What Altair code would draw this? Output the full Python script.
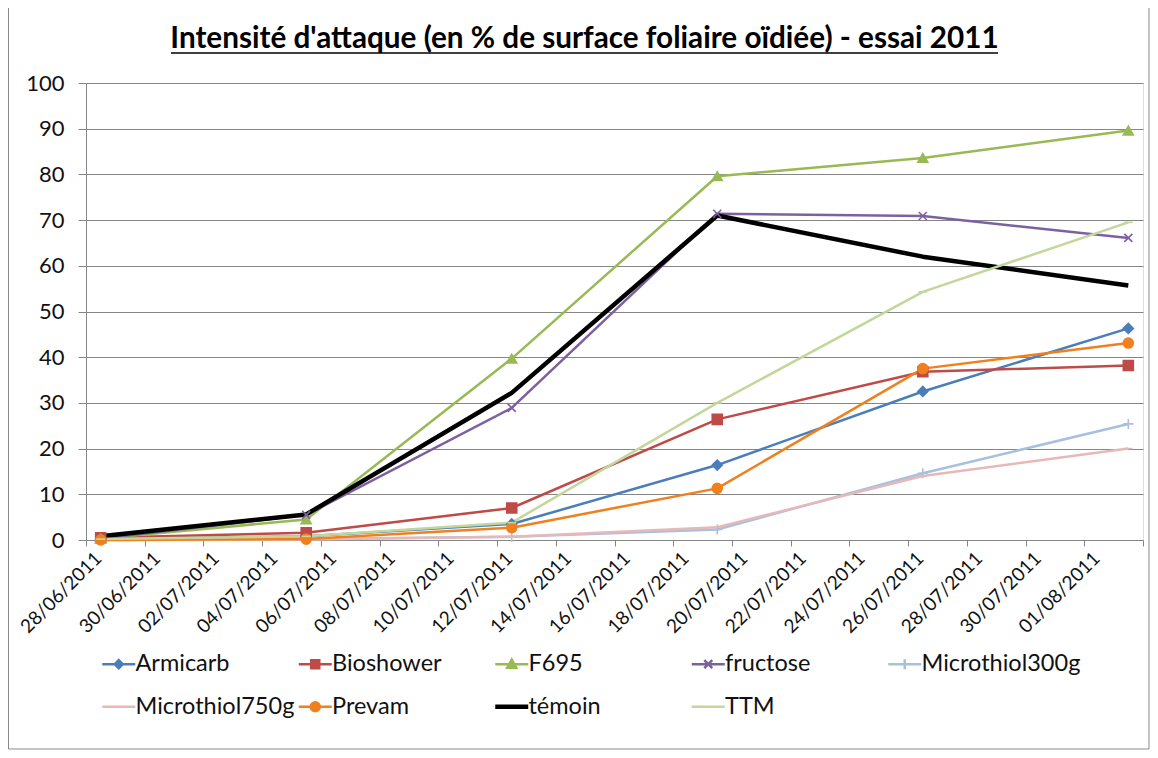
import altair as alt
import pandas as pd

dates = ["28/06/2011", "05/07/2011", "12/07/2011", "19/07/2011", "26/07/2011", "02/08/2011"]
series = ["Armicarb", "Bioshower", "F695", "fructose", "Microthiol300g",
          "Microthiol750g", "Prevam", "témoin", "TTM"]
values = {
    "Armicarb":       [0.2, 0.8, 3.5, 16.4, 32.5, 46.3],
    "Bioshower":      [0.5, 1.6, 7.0, 26.4, 36.8, 38.2],
    "F695":           [0.3, 4.5, 39.7, 79.6, 83.6, 89.6],
    "fructose":       [0.3, 5.5, 28.9, 71.4, 70.9, 66.1],
    "Microthiol300g": [0.0, 0.2, 0.7, 2.3, 14.6, 25.4],
    "Microthiol750g": [0.0, 0.1, 0.7, 2.8, 14.0, 20.0],
    "Prevam":         [0.0, 0.2, 2.7, 11.3, 37.5, 43.1],
    "témoin":         [0.8, 5.6, 32.2, 71.0, 62.0, 55.7],
    "TTM":            [0.2, 0.8, 3.8, 30.0, 54.3, 69.5],
}
colors = ["#4A7EBB", "#BE4B48", "#98B954", "#7D60A0", "#A7C0DE",
          "#E6B9B8", "#F0801E", "#000000", "#C3D69B"]
tick_labels = ["28/06/2011", "30/06/2011", "02/07/2011", "04/07/2011", "06/07/2011",
               "08/07/2011", "10/07/2011", "12/07/2011", "14/07/2011", "16/07/2011",
               "18/07/2011", "20/07/2011", "22/07/2011", "24/07/2011", "26/07/2011",
               "28/07/2011", "30/07/2011", "01/08/2011"]
title_text = "Intensité d'attaque (en % de surface foliaire oïdiée) - essai 2011"

# marker shapes on the data points (None = no marker)
marker_shapes = ["diamond", "square", "triangle-up", "M-0.8,-0.8L0.8,0.8M0.8,-0.8L-0.8,0.8",
                 "M-1,0H1M0,-1V1", "M-0.9,0H0.9", "circle", None, "M-0.9,0H0.9"]
# legend symbols: line stub + marker
stub = "M-3.3,0H3.3"
legend_marks = {
    "Armicarb": stub + "M0,-0.8L0.8,0L0,0.8L-0.8,0Z",
    "Bioshower": stub + "M-0.8,-0.8H0.8V0.8H-0.8Z",
    "F695": stub + "M0,-0.9L0.9,0.7H-0.9Z",
    "fructose": stub + "M-0.8,-0.8L0.8,0.8M0.8,-0.8L-0.8,0.8",
    "Microthiol300g": stub + "M0,-1V1",
    "Microthiol750g": stub,
    "Prevam": stub + "M-0.9,0A0.9,0.9 0 1,0 0.9,0A0.9,0.9 0 1,0 -0.9,0Z",
    "témoin": stub,
    "TTM": stub,
}

base_date = pd.to_datetime(dates[0], format="%d/%m/%Y")
rows = []
for s in series:
    for d, v in zip(dates, values[s]):
        day = (pd.to_datetime(d, format="%d/%m/%Y") - base_date).days + 0.5
        rows.append({"serie": s, "day": day, "value": v})
df = pd.DataFrame(rows)

shape_expr = "'circle'"
for s in reversed(series):
    shape_expr = f"datum.value === '{s}' ? '{legend_marks[s]}' : " + shape_expr

label_array = "[" + ",".join(f"'{t}'" for t in tick_labels) + "]"
label_expr = f"{label_array}[datum.value / 2] || ''"

FONT = "Lato"

x_enc = alt.X("day:Q",
              scale=alt.Scale(domain=[0, 36], nice=False, zero=False),
              axis=alt.Axis(values=list(range(0, 37, 2)), labelExpr=label_expr,
                            labelAngle=315, labelAlign="right", labelBaseline="middle",
                            labelOffset=12, labelPadding=9, labelFontSize=19,
                            labelFont=FONT, labelColor="#111", grid=False,
                            tickSize=6, tickColor="#868686", domainColor="#868686",
                            labelOverlap=False, title=None))
y_enc = alt.Y("value:Q",
              scale=alt.Scale(domain=[0, 100], nice=False),
              axis=alt.Axis(values=list(range(0, 101, 10)), labelFontSize=22,
                            labelFont=FONT, labelColor="#111", gridColor="#868686",
                            tickSize=8, tickColor="#868686", domainColor="#868686",
                            labelPadding=14, title=None))

legend = alt.Legend(
    orient="none", legendX=21, legendY=569, columns=5, gridAlign="all",
    direction="horizontal",
    title=None, labelFont=FONT, labelFontSize=23.5, labelColor="#111",
    symbolSize=100, labelOffset=5, columnPadding=-5.5, rowPadding=18,
    labelLimit=400, padding=0,
    symbolType={"expr": shape_expr},
    symbolFillColor={"expr": "scale('color', datum.value)"},
    symbolStrokeColor={"expr": "scale('color', datum.value)"},
    symbolStrokeWidth={"expr": "datum.value === 'témoin' ? 4.5 : 2.5"},
    symbolOpacity=1,
)

lines = alt.Chart(df).mark_line(strokeJoin="round").encode(
    x=x_enc, y=y_enc,
    color=alt.Color("serie:N", scale=alt.Scale(domain=series, range=colors),
                    legend=legend, sort=series),
    strokeWidth=alt.condition(alt.datum.serie == "témoin", alt.value(4.5), alt.value(2.5)),
    order="day:Q",
)

point_layers = []
for s, shp, col in zip(series, marker_shapes, colors):
    if shp is None:
        continue
    point_layers.append(
        alt.Chart(df).transform_filter(alt.datum.serie == s).mark_point(
            shape=shp, filled=True, fill=col, stroke=col, size=100,
            strokeWidth=1.6, opacity=1
        ).encode(x=x_enc, y=y_enc)
    )

underline = alt.Chart(pd.DataFrame({"k": [0]})).mark_rule(
    color="#000", strokeWidth=1.6
).encode(x=alt.value(85), x2=alt.value(912), y=alt.value(-30))

frame = alt.Chart(pd.DataFrame({"k": [0]})).mark_rect(
    fill=None, stroke="#8a8a8a", strokeWidth=1
).encode(x=alt.value(-77.5), x2=alt.value(1063), y=alt.value(-75.5), y2=alt.value(666))

chart = alt.layer(frame, lines, *point_layers, underline).properties(
    width=1057, height=457,
    title=alt.TitleParams(title_text, font=FONT, fontSize=29.7, fontWeight="bold",
                          color="#000", anchor="middle", dx=-30, offset=-71,
                          baseline="alphabetic"),
    autosize=alt.AutoSizeParams(type="none"),
    padding={"left": 78, "top": 75, "right": 7, "bottom": 210},
).configure_view(stroke=None).configure(background="white")

chart.save("out.html", embed_options={"renderer": "svg", "actions": False})
